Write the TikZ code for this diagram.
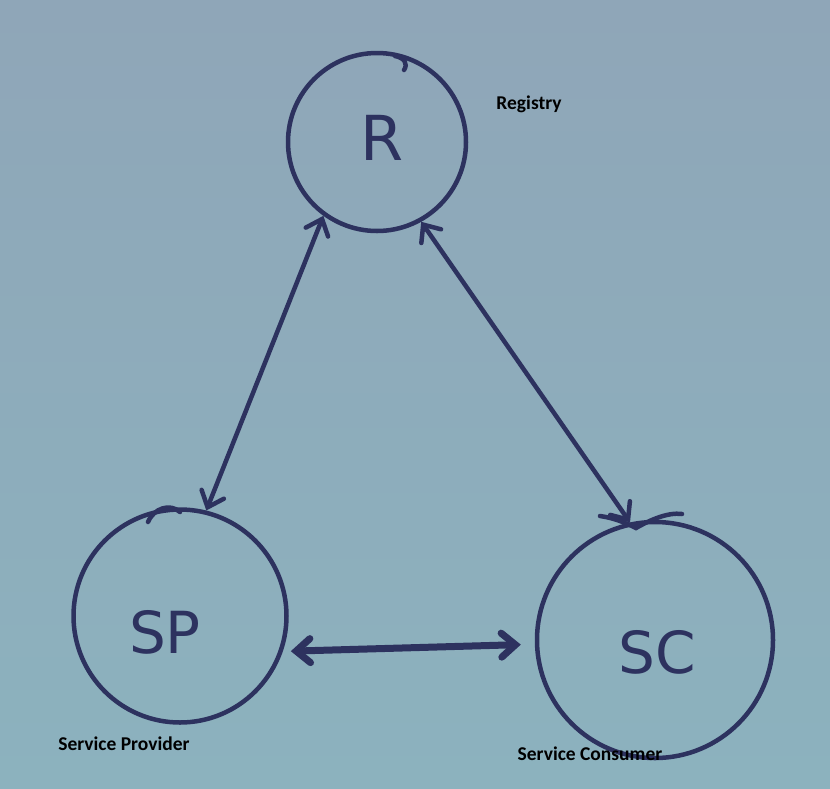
\documentclass[tikz,border=0pt]{standalone}
\usepackage{fontspec}
\setmainfont{Carlito}
\newfontfamily\handfont{DejaVu Sans}
\usetikzlibrary{arrows.meta}
\definecolor{ink}{RGB}{45,50,95}
\definecolor{bgtop}{RGB}{143,166,184}
\definecolor{bgbot}{RGB}{140,178,190}
\tikzset{
  x=1pt, y=1pt,
  bubble/.style={circle, draw=ink, line width=4.5pt, inner sep=0pt},
  hand/.style={text=ink, font=\handfont\fontsize{58}{62}\selectfont},
  caption/.style={text=black, font=\bfseries\fontsize{19.5}{22}\selectfont},
  stroke/.style={draw=ink, line width=4.5pt, line cap=round},
  link/.style={draw=ink, line width=4.5pt, line cap=round,
    {Straight Barb[length=14pt,width=24pt,line cap=round]}-{Straight Barb[length=14pt,width=24pt,line cap=round]}},
}
\begin{document}
\begin{tikzpicture}
\shade[top color=bgtop, bottom color=bgbot] (0,0) rectangle (830,-788);
\useasboundingbox (0,0) rectangle (830,-788);

\node[bubble, minimum size=178pt] (R) at (377,-142) {};
\node[bubble, minimum size=213pt] (SP) at (180,-616) {};
\node[bubble, minimum size=236pt] (SC) at (655,-640) {};

% hand-drawn overlaps of the circles
\draw[stroke] (395,-56) .. controls (405,-58) and (408,-64) .. (404,-70);
\draw[stroke] (148,-522) .. controls (154,-508) and (170,-503) .. (180,-512);
\draw[stroke] (600,-516) .. controls (615,-518) and (628,-524) .. (636,-528)
  .. controls (650,-520) and (668,-512) .. (682,-514);

\node[hand, font=\handfont\fontsize{62}{66}\selectfont] (Rt) at (382,-138) {R};
\node[hand] (SPt) at (165,-632) {SP};
\node[hand] (SCt) at (657,-652) {SC};

\node[caption] (Rl) at (529,-104) {Registry};
\node[caption] (SPl) at (124,-744) {Service Provider};
\node[caption] (SCl) at (590,-754) {Service Consumer};

\draw[link] (R.234) -- (SP.76);
\draw[link] (R.299) -- (SC.102);
\draw[link, line width=7pt, shorten <=8pt, shorten >=14pt] (SP.-19) -- (SC.182);
\end{tikzpicture}
\end{document}
